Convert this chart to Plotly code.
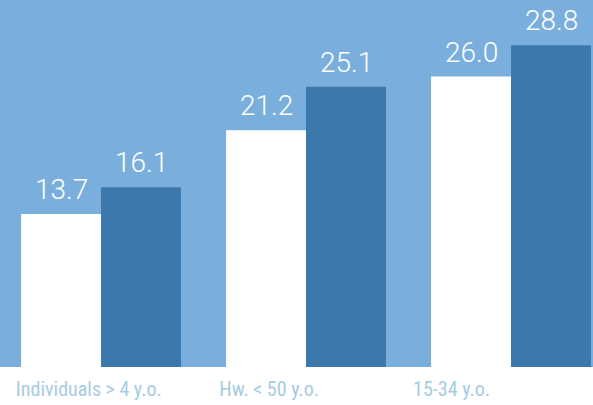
import plotly.graph_objects as go

categories = ["Individuals > 4 y.o.", "Hw. < 50 y.o.", "15-34 y.o."]
series_a = [13.7, 21.2, 26.0]
series_b = [16.1, 25.1, 28.8]
value_labels_a = ["13.7", "21.2", "26.0"]
value_labels_b = ["16.1", "25.1", "28.8"]

xs = list(range(len(categories)))
label_shift = [-0.06, -0.18, -0.29]

num_font = dict(family="Roboto", size=28, color="white", weight=300)

fig = go.Figure()
fig.add_trace(go.Bar(x=xs, y=series_a, marker=dict(color="white", line=dict(width=0)), hoverinfo="skip"))
fig.add_trace(go.Bar(x=xs, y=series_b, marker=dict(color="#3c78ac", line=dict(width=0)), hoverinfo="skip"))

for x, ya, yb, ta, tb in zip(xs, series_a, series_b, value_labels_a, value_labels_b):
    fig.add_annotation(x=x, y=ya, text=ta, xref="x", yref="y", showarrow=False,
                       xanchor="center", yanchor="bottom", xshift=-40, yshift=6, font=num_font)
    fig.add_annotation(x=x, y=yb, text=tb, xref="x", yref="y", showarrow=False,
                       xanchor="center", yanchor="bottom", xshift=40, yshift=6, font=num_font)

fig.update_layout(
    width=593, height=405,
    margin=dict(l=0, r=0, t=0, b=38, pad=0, autoexpand=False),
    paper_bgcolor="white", plot_bgcolor="#7aafdd",
    barmode="group", bargap=0.22, bargroupgap=0.0,
    showlegend=False,
    xaxis=dict(range=[-0.493, 2.4], tickmode="array",
               tickvals=[x + s for x, s in zip(xs, label_shift)], ticktext=categories,
               showgrid=False, zeroline=False, showline=False, ticks="",
               ticklabelstandoff=8,
               tickfont=dict(family="Roboto Condensed, Liberation Sans Narrow, Roboto",
                             size=20, color="#a6cbe3")),
    yaxis=dict(range=[0, 32.86], visible=False, showgrid=False, zeroline=False),
)

fig.write_html("out.html", config={"displayModeBar": False},
               post_script="document.body.style.margin='0';document.body.style.overflow='hidden';")
